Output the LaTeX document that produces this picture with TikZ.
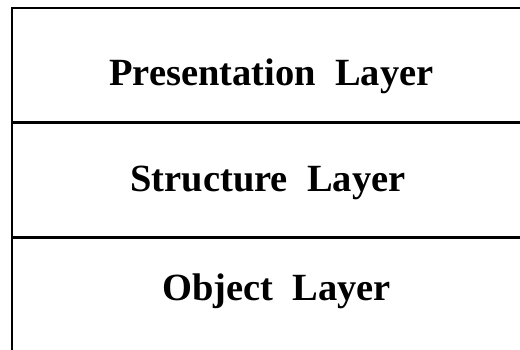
\documentclass[tikz,border=0pt]{standalone}
\usepackage{fontspec}
\setmainfont{Liberation Serif}
\begin{document}
\begin{tikzpicture}[x=1pt,y=-1pt,
  rule/.style={line width=2.4pt,black},
  layertext/.style={anchor=base,inner sep=0pt,font=\fontsize{38.5}{40}\selectfont\bfseries}]
\useasboundingbox (0,0) rectangle (520,350);
\draw[rule] (520,8) -- (12,8) -- (12,350);
\draw[rule] (12,122.7) -- (520,122.7);
\draw[rule] (12,237.5) -- (520,237.5);
\node[layertext] (pres) at (271.5,86) {Presentation\ \ Layer};
\node[layertext] (struct) at (268,191.7) {Structure\ \ Layer};
\node[layertext] (obj) at (276.5,301) {Object\ \ Layer};
\end{tikzpicture}
\end{document}
